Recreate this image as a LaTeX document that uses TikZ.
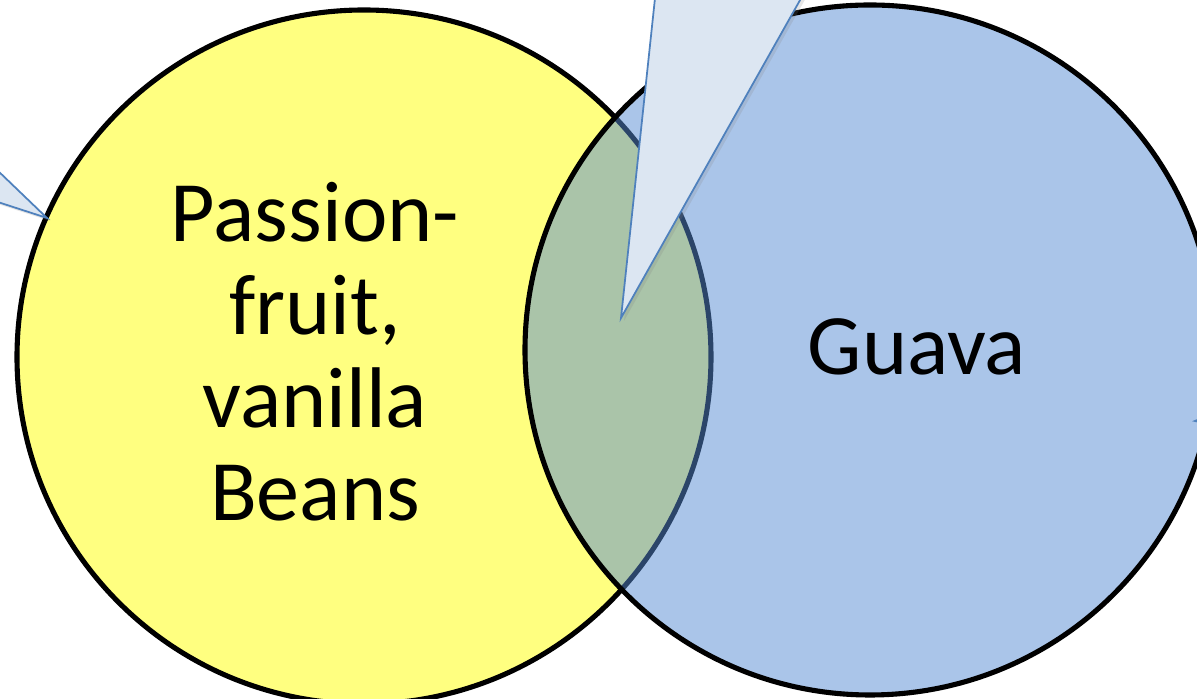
\documentclass[tikz,border=0pt]{standalone}
\usepackage{fontspec}
\setmainfont{Carlito}
\usetikzlibrary{shadows}

\definecolor{vennyellow}{RGB}{255,255,128}
\definecolor{vennblue}{RGB}{86,139,211}
\definecolor{calloutfill}{RGB}{220,230,242}
\definecolor{calloutline}{RGB}{79,129,189}

\tikzset{
  vennring/.style={line width=1.45pt},
  callout/.style={fill=calloutfill, draw=calloutline, line width=0.5pt,
    drop shadow={opacity=0.2, shadow xshift=0.03, shadow yshift=-0.03}},
  venntext/.style={font=\fontsize{24.5}{26.5}\selectfont, align=center}
}

\begin{document}
\begin{tikzpicture}
    \useasboundingbox (0,0) rectangle (11.97,6.99);
    \clip (0,0) rectangle (11.97,6.99);
    % the two sets
    \fill[vennyellow] (3.64,3.42) circle (3.47);
    \draw[vennring] (3.64,3.42) circle (3.47);
    \fill[vennblue, fill opacity=0.5] (8.70,3.49) circle (3.45);
    \draw[vennring] (8.70,3.49) circle (3.45);
    % callout tips
    \path[callout] (-0.30,5.55)--(0.47,4.81)--(-0.30,5.06)--cycle;
    \path[callout] (6.58,7.29)--(6.21,3.81)--(8.17,7.29)--cycle;
    \path[callout] (12.30,2.92)--(11.95,2.78)--(12.30,2.70)--cycle;
    % labels
    \node[venntext] (fruit) at (3.15,3.47) {Passion-\\fruit,\\vanilla\\Beans};
    \node[venntext] (guava) at (9.17,3.52) {Guava};
\end{tikzpicture}
\end{document}
